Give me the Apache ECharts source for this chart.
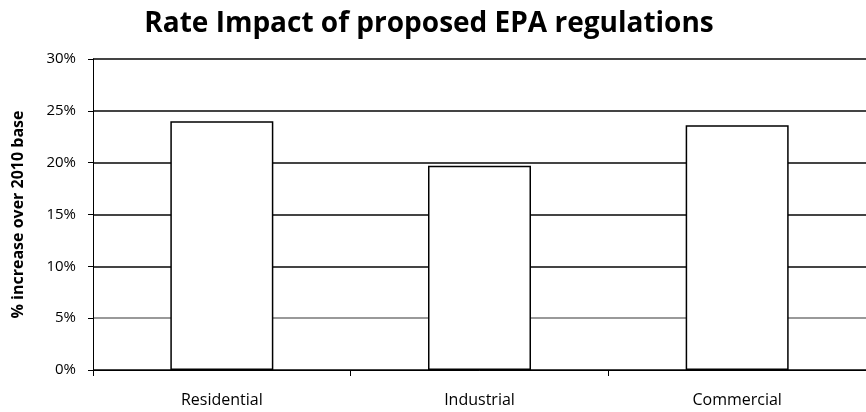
<!DOCTYPE html>
<html>
<head>
<meta charset="utf-8">
<script src="https://cdn.jsdelivr.net/npm/echarts@6/dist/echarts.min.js"></script>
<style>
html, body { margin: 0; padding: 0; background: #fff; }
#chart { width: 866px; height: 412px; }
</style>
</head>
<body>
<div id="chart"></div>
<script>
var categories = ['Residential', 'Industrial', 'Commercial'];
var rateIncrease = [24.0, 19.7, 23.6];
var yTicks = [0, 5, 10, 15, 20, 25, 30];

var chart = echarts.init(document.getElementById('chart'));
var font = '"Open Sans", "Noto Sans", sans-serif';

chart.setOption({
	animation: false,
	title: {
		text: 'Rate Impact of proposed EPA regulations',
		left: 424,
		top: 5,
		textAlign: 'center',
		textStyle: { fontFamily: font, fontSize: 28, fontWeight: 'bold', color: '#000' }
	},
	grid: { left: 93, right: 0, top: 59, bottom: 42 },
	xAxis: {
		type: 'category',
		data: categories,
		axisLine: { lineStyle: { color: '#000', width: 1 } },
		axisTick: { show: true, length: 6, lineStyle: { color: '#000' } },
		axisLabel: { fontFamily: font, fontSize: 16, color: '#000', margin: 22 }
	},
	yAxis: {
		type: 'value',
		min: yTicks[0],
		max: yTicks[yTicks.length - 1],
		interval: 5,
		name: '% increase over 2010 base',
		nameLocation: 'middle',
		nameGap: 67,
		nameTextStyle: { fontFamily: font, fontSize: 16, fontWeight: 'bold', color: '#000' },
		axisLine: { show: true, lineStyle: { color: '#000' } },
		axisTick: { show: true, length: 5, lineStyle: { color: '#000' } },
		axisLabel: {
			fontFamily: font, fontSize: 15, color: '#000', margin: 17,
			formatter: function (v) { return v + '%'; }
		},
		splitLine: {
			lineStyle: { color: ['#444', '#999', '#444', '#444', '#444', '#444', '#444'], width: 2 }
		}
	},
	series: [{
		type: 'bar',
		data: rateIncrease,
		barWidth: 103,
		itemStyle: { color: '#fff', borderColor: '#000', borderWidth: 1.5 }
	}]
});
</script>
</body>
</html>
